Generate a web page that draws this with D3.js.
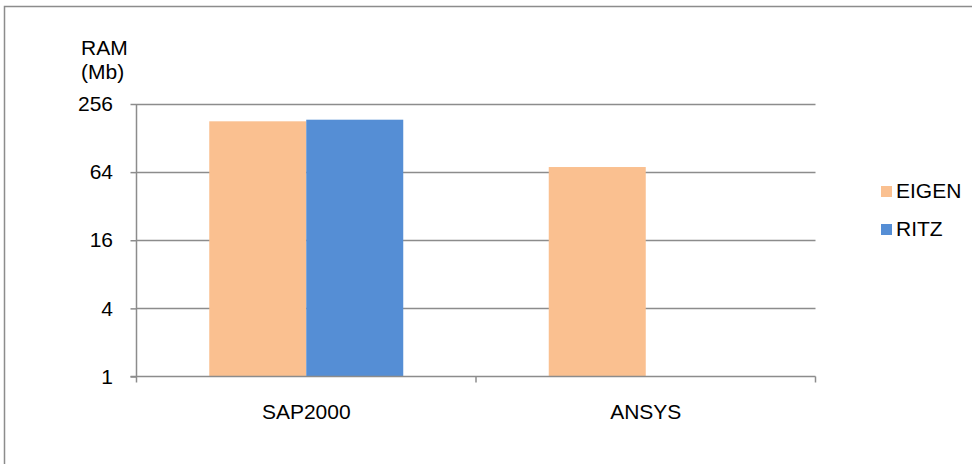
<!DOCTYPE html>
<html>
<head>
<meta charset="utf-8">
<script src="https://cdn.jsdelivr.net/npm/d3@7"></script>
<style>
  html, body { margin: 0; padding: 0; background: #fff; }
  svg { display: block; font-family: "Liberation Sans", Arial, sans-serif; }
</style>
</head>
<body>
<svg id="chart" width="972" height="464"></svg>
<script>
// Memory use per solver (RAM, Mb)
const categories = ["SAP2000", "ANSYS"];
const seriesNames = ["EIGEN", "RITZ"];
const eigenValues = [180, 71];
const ritzValues = [186, null];
const yTicks = [1, 4, 16, 64, 256];
const colors = ["#FAC090", "#558ED5"];

const svg = d3.select("#chart");
const W = 972, H = 464;
const FS = 21;
const plot = { left: 136.5, right: 815.5, top: 104, bottom: 376.5 };

// Outer frame (top and left edges visible)
svg.append("path")
  .attr("d", `M4.5,${H} V6.5 H${W}`)
  .attr("fill", "none").attr("stroke", "#8c8c8c").attr("stroke-width", 1.5);

const x = d3.scaleBand().domain(categories).range([plot.left, plot.right]).paddingInner(0).paddingOuter(0);
const xs = d3.scaleBand().domain(seriesNames).range([0, x.bandwidth()]).paddingInner(0).paddingOuter(0.75);
const y = d3.scaleLog().base(2).domain([1, 256]).range([plot.bottom, plot.top]);

// Horizontal gridlines
svg.append("g").selectAll("line").data(yTicks.slice(1)).join("line")
  .attr("x1", plot.left).attr("x2", plot.right)
  .attr("y1", d => Math.round(y(d)) + 0.5).attr("y2", d => Math.round(y(d)) + 0.5)
  .attr("stroke", "#8c8c8c").attr("stroke-width", 1.5);

// Bars
const series = [eigenValues, ritzValues];
const g = svg.append("g");
series.forEach((vals, si) => {
  g.selectAll(null).data(categories.map((c, i) => ({ c, v: vals[i] })).filter(d => d.v != null))
    .join("rect")
    .attr("x", d => x(d.c) + xs(seriesNames[si]))
    .attr("width", xs.bandwidth())
    .attr("y", d => y(d.v))
    .attr("height", d => plot.bottom - y(d.v))
    .attr("fill", colors[si]);
});

// Y axis
const yAxis = d3.axisLeft(y).tickValues(yTicks).tickFormat(d3.format("d")).tickSize(6).tickPadding(17.5);
const ya = svg.append("g").attr("transform", `translate(${plot.left},0)`).call(yAxis);
ya.select(".domain").attr("stroke", "#8c8c8c").attr("stroke-width", 1.5).attr("d", `M0,${plot.top}V${plot.bottom}`);
ya.selectAll(".tick line").attr("stroke", "#8c8c8c").attr("stroke-width", 1.5);
ya.selectAll(".tick text").attr("font-size", FS).attr("fill", "#000").attr("font-family", "Liberation Sans, Arial, sans-serif");

// X axis
const xa = svg.append("g").attr("transform", `translate(0,${plot.bottom})`);
xa.append("line").attr("x1", plot.left - 6).attr("x2", plot.right).attr("y1", 0).attr("y2", 0)
  .attr("stroke", "#8c8c8c").attr("stroke-width", 1.5);
const boundaries = [plot.left, ...categories.map(c => x(c) + x.bandwidth())];
xa.selectAll("line.tk").data(boundaries).join("line").attr("class", "tk")
  .attr("x1", d => d).attr("x2", d => d).attr("y1", 0).attr("y2", 6)
  .attr("stroke", "#8c8c8c").attr("stroke-width", 1.5);
xa.selectAll("text").data(categories).join("text")
  .attr("x", d => x(d) + x.bandwidth() / 2).attr("y", 42.5)
  .attr("text-anchor", "middle").attr("font-size", FS).attr("fill", "#000")
  .text(d => d);

// Y axis title
const title = svg.append("text").attr("font-size", FS).attr("fill", "#000");
title.append("tspan").attr("x", 81).attr("y", 55).text("RAM");
title.append("tspan").attr("x", 81).attr("y", 79).text("(Mb)");

// Legend
const legend = svg.append("g").attr("transform", "translate(881,198)");
seriesNames.forEach((name, i) => {
  const row = legend.append("g").attr("transform", `translate(0,${i * 38})`);
  row.append("rect").attr("x", 0).attr("y", -12).attr("width", 11).attr("height", 11).attr("fill", colors[i]);
  row.append("text").attr("x", 15).attr("y", 0).attr("font-size", FS).attr("fill", "#000").text(name);
});
</script>
</body>
</html>
